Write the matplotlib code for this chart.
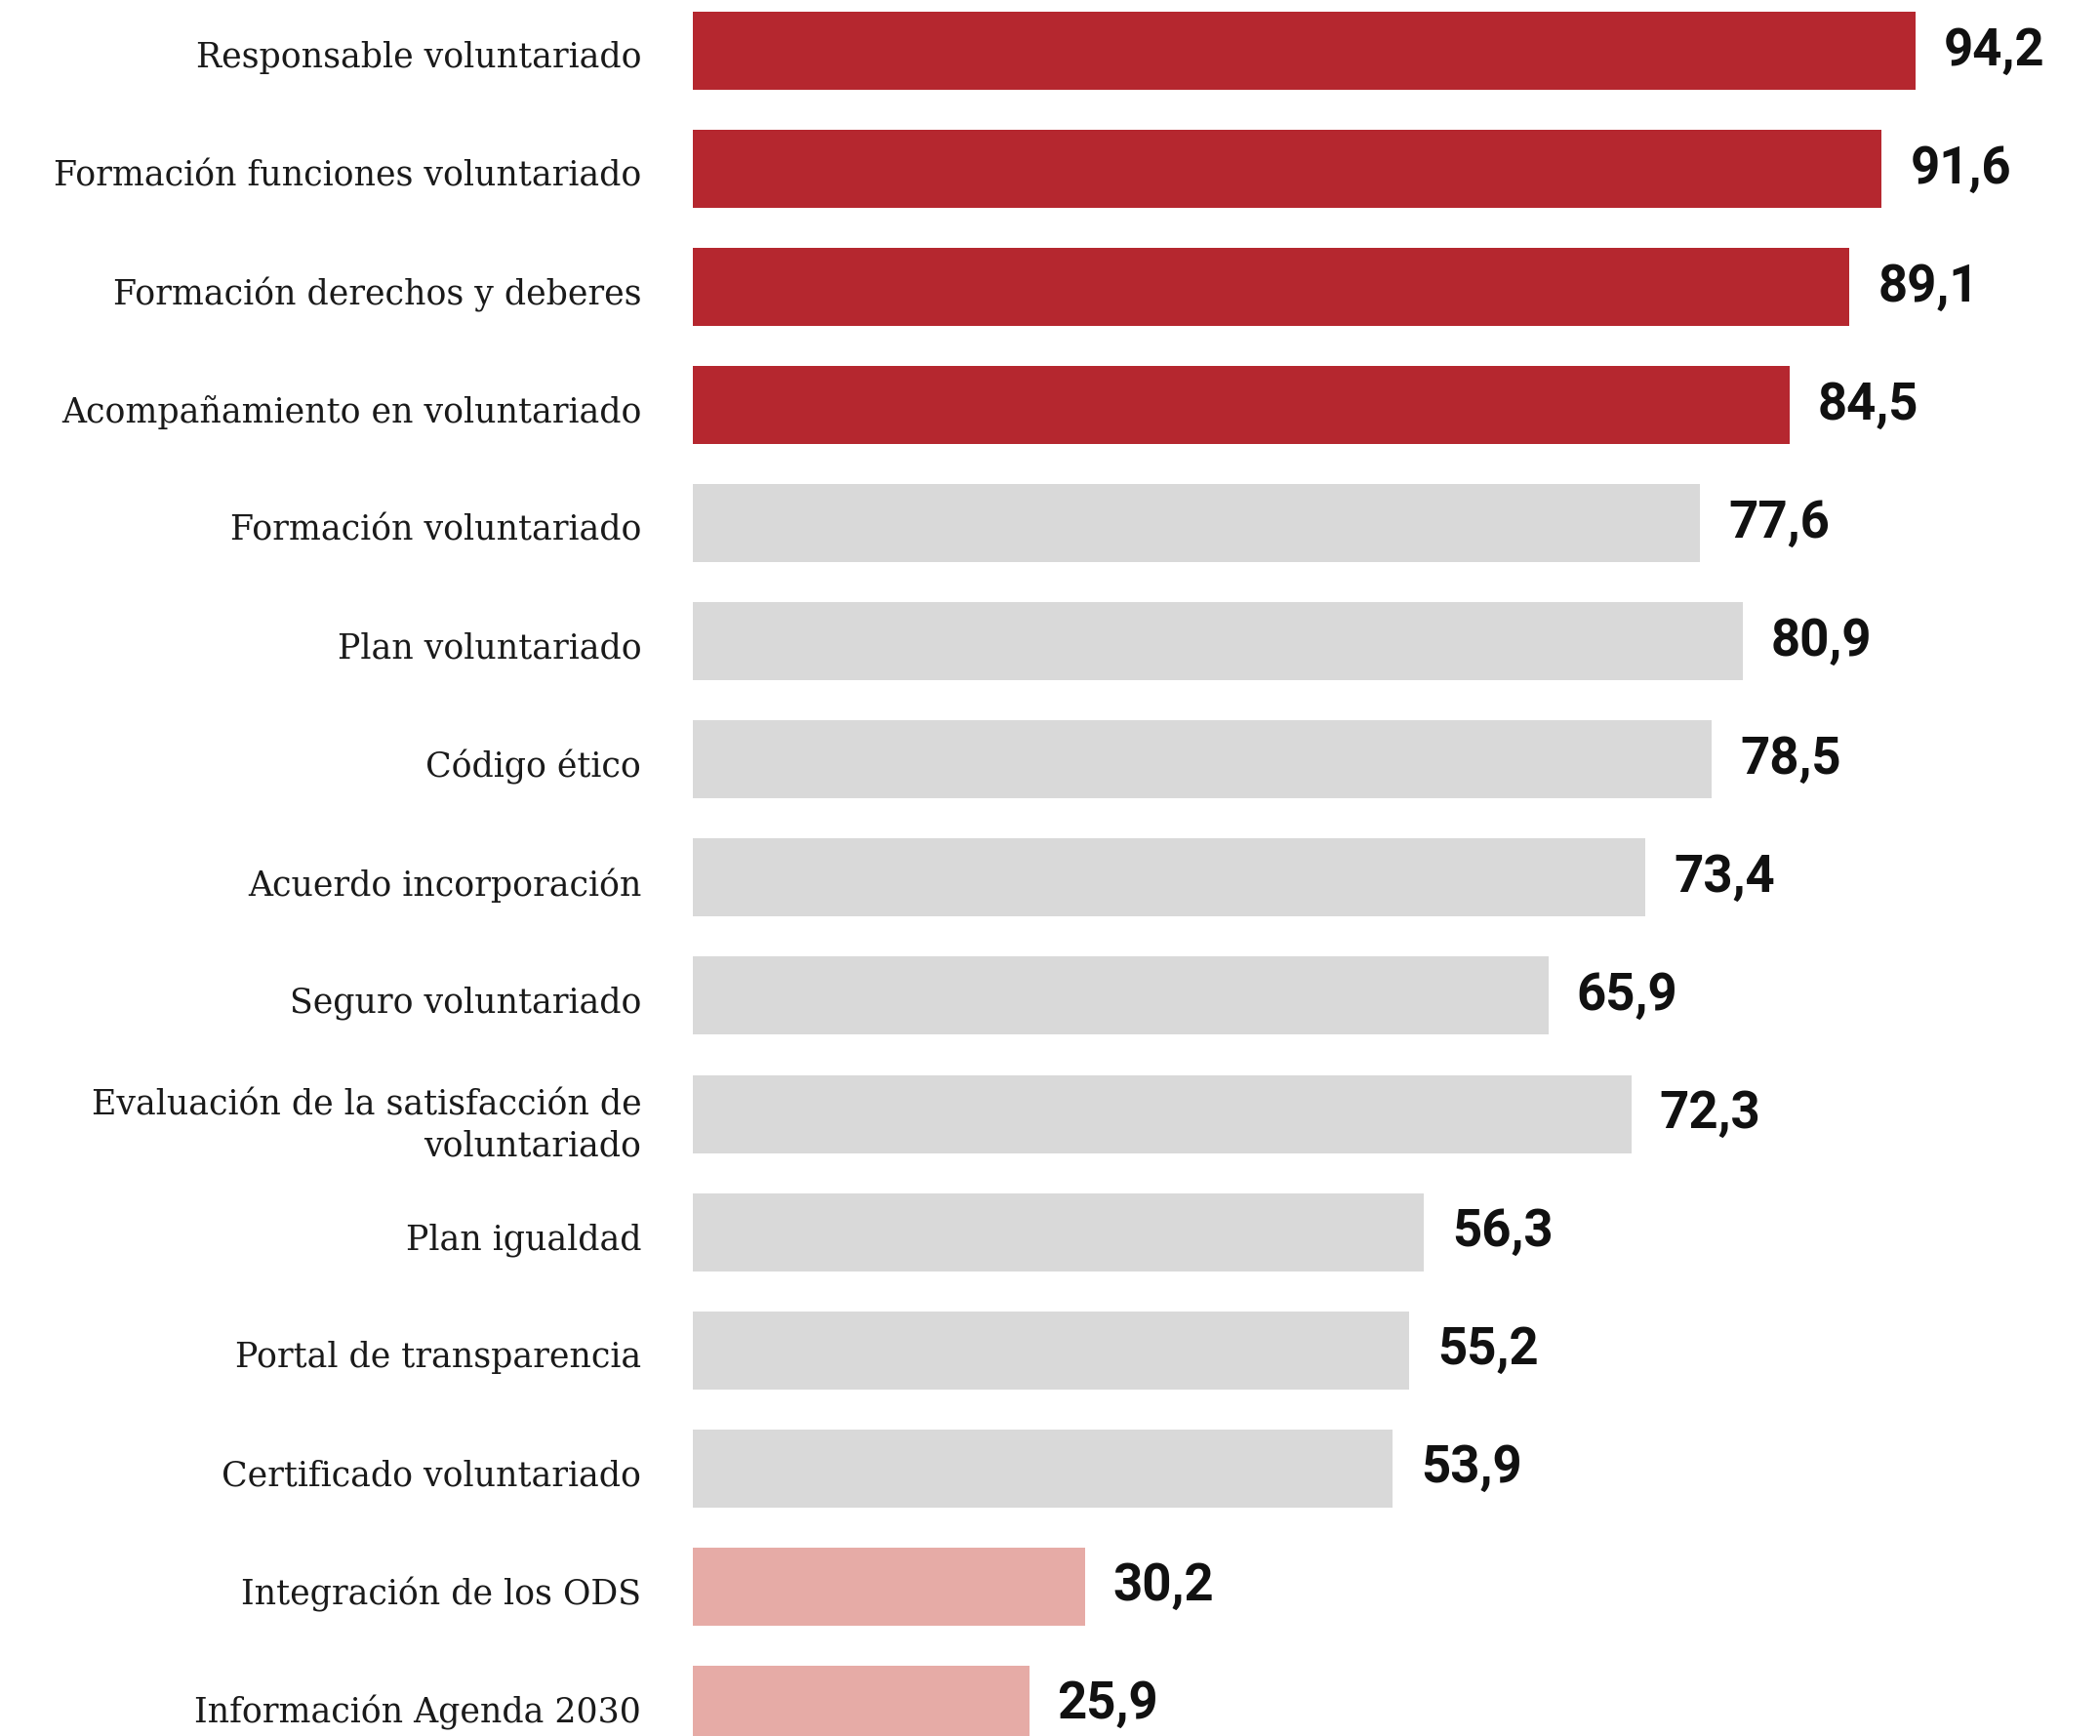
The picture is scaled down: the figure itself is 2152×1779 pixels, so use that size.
import matplotlib
matplotlib.use("Agg")
import matplotlib.pyplot as plt
from matplotlib.transforms import ScaledTranslation

categories = [
    "Responsable voluntariado",
    "Formación funciones voluntariado",
    "Formación derechos y deberes",
    "Acompañamiento en voluntariado",
    "Formación voluntariado",
    "Plan voluntariado",
    "Código ético",
    "Acuerdo incorporación",
    "Seguro voluntariado",
    "Evaluación de la satisfacción de\nvoluntariado",
    "Plan igualdad",
    "Portal de transparencia",
    "Certificado voluntariado",
    "Integración de los ODS",
    "Información Agenda 2030",
]
values = [94.2, 91.6, 89.1, 84.5, 77.6, 80.9, 78.5, 73.4, 65.9, 72.3, 56.3, 55.2, 53.9, 30.2, 25.9]
groups = ["top"] * 4 + ["mid"] * 9 + ["low"] * 2
group_colors = {"top": "#b5272f", "mid": "#d9d9d9", "low": "#e6aba6"}

W, H = 2152, 1779
fig = plt.figure(figsize=(W / 100, H / 100), dpi=100)
left_px = 710
ax = fig.add_axes([left_px / W, 0, 1 - left_px / W, 1])

ypos = list(range(len(values)))
ax.barh(ypos, values, height=0.661, color=[group_colors[g] for g in groups])

px_per_unit = 1253 / 94.2
ax.set_xlim(0, (W - left_px) / px_per_unit)
spacing = 121.06
ax.set_ylim((H - 52) / spacing, -52 / spacing)

for y, v in zip(ypos, values):
    ax.text(v + 29 / px_per_unit, y, f"{v:.1f}".replace(".", ","),
            va="center", ha="left", fontsize=38, fontweight="bold",
            family=["Roboto", "DejaVu Sans"], color="#111111")

ax.set_yticks(ypos)
ax.set_yticklabels(categories, family=["DejaVu Serif Condensed", "DejaVu Serif"],
                   fontsize=25, color="#1a1a1a", linespacing=1.3)
ax.tick_params(axis="y", length=0, pad=38)
shift = ScaledTranslation(0, -4 / 100, fig.dpi_scale_trans)
for lbl in ax.get_yticklabels():
    lbl.set_transform(lbl.get_transform() + shift)
ax.set_xticks([])
for s in ax.spines.values():
    s.set_visible(False)

fig.savefig("out.png", dpi=100, facecolor="white")
